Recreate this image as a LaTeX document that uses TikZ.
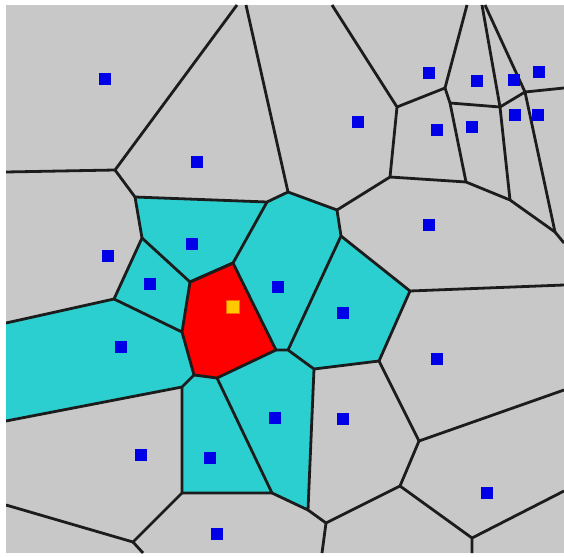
\documentclass[tikz,border=0pt]{standalone}
\usepackage{tikz}
\definecolor{cellgray}{HTML}{C8C8C8}
\definecolor{cellcyan}{HTML}{2BCFCF}
\definecolor{cellred}{HTML}{FF0000}
\definecolor{siteblue}{HTML}{0000E8}
\definecolor{seedyellow}{HTML}{FFC800}
\definecolor{edgeblack}{HTML}{1C1C1C}

\begin{document}
\begin{tikzpicture}[x=1pt, y=-1pt,
    site/.style={fill=siteblue, minimum size=12.5pt, inner sep=0pt},
    edge/.style={draw=edgeblack, line width=2.8pt, line join=round}]
    \useasboundingbox (0,0) rectangle (564,556);
    \fill[white] (0,0) rectangle (564,556);
    \fill[cellgray] (6,5) rectangle (564,553);

    % border points
    \coordinate (t1) at (237,5);  \coordinate (t2) at (246,5);
    \coordinate (t3) at (332,5);  \coordinate (t4) at (467,5);
    \coordinate (t5) at (482,5);  \coordinate (t6) at (485,5);
    \coordinate (l1) at (6,172);  \coordinate (l2) at (6,323);
    \coordinate (l3) at (6,421);  \coordinate (l4) at (6,505);
    \coordinate (r1) at (564,88); \coordinate (r2) at (564,243);
    \coordinate (r3) at (564,285); \coordinate (r4) at (564,390);
    \coordinate (r5) at (564,491);
    \coordinate (b1) at (143,553); \coordinate (b2) at (322,553);
    \coordinate (b3) at (472,553);

    % inner vertices
    \coordinate (A) at (115,170); \coordinate (B) at (135,197);
    \coordinate (C) at (267,202); \coordinate (D) at (288,192);
    \coordinate (E) at (142,238); \coordinate (F) at (114,299);
    \coordinate (G) at (182,387); \coordinate (H) at (272,493);
    \coordinate (I) at (182,493); \coordinate (J) at (288,350);
    \coordinate (K) at (314,369); \coordinate (L) at (308,510);
    \coordinate (M) at (326,523); \coordinate (N) at (337,210);
    \coordinate (O) at (341,236); \coordinate (P) at (410,291);
    \coordinate (Q) at (379,361); \coordinate (S) at (419,441);
    \coordinate (T) at (400,486); \coordinate (U) at (472,538);
    \coordinate (V) at (133,542); \coordinate (W) at (397,107);
    \coordinate (X) at (390,177); \coordinate (Y) at (466,182);
    \coordinate (Z1) at (445,88); \coordinate (Z2) at (450,103);
    \coordinate (Z3) at (500,107); \coordinate (Z4) at (525,92);
    \coordinate (Z5) at (510,200); \coordinate (Z6) at (555,232);

    % red cell
    \coordinate (R0) at (190,282); \coordinate (R1) at (233,263);
    \coordinate (R2) at (276,350); \coordinate (R3) at (217,378);
    \coordinate (R4) at (194,375); \coordinate (R5) at (182,332);

    % neighbour cells
    \fill[cellcyan] (B) -- (C) -- (R1) -- (R0) -- (E) -- cycle;
    \fill[cellcyan] (E) -- (R0) -- (R5) -- (F) -- cycle;
    \fill[cellcyan] (l2) -- (F) -- (R5) -- (R4) -- (G) -- (l3) -- cycle;
    \fill[cellcyan] (G) -- (R4) -- (R3) -- (H) -- (I) -- cycle;
    \fill[cellcyan] (R3) -- (R2) -- (J) -- (K) -- (L) -- (H) -- cycle;
    \fill[cellcyan] (R1) -- (C) -- (D) -- (N) -- (O) -- (J) -- (R2) -- cycle;
    \fill[cellcyan] (O) -- (P) -- (Q) -- (K) -- (J) -- cycle;
    \fill[cellred] (R0) -- (R1) -- (R2) -- (R3) -- (R4) -- (R5) -- cycle;

    \begin{scope}
      \clip (6,5) rectangle (564,553);
      \draw[edge] (l1) -- (A) -- (t1);
      \draw[edge] (A) -- (B) -- (C) -- (D) -- (t2);
      \draw[edge] (B) -- (E) -- (F) -- (l2);
      \draw[edge] (C) -- (R1) -- (R0) -- (E);
      \draw[edge] (R0) -- (R1) -- (R2) -- (R3) -- (R4) -- (R5) -- cycle;
      \draw[edge] (F) -- (R5);
      \draw[edge] (R4) -- (G) -- (l3);
      \draw[edge] (G) -- (I) -- (H) -- (R3);
      \draw[edge] (H) -- (L) -- (K) -- (J) -- (R2);
      \draw[edge] (L) -- (M) -- (b2);
      \draw[edge] (I) -- (V) -- (l4);
      \draw[edge] (V) -- (b1);
      \draw[edge] (J) -- (O) -- (N) -- (D);
      \draw[edge] (O) -- (P) -- (Q) -- (K);
      \draw[edge] (P) -- (r3);
      \draw[edge] (Q) -- (S) -- (r4);
      \draw[edge] (S) -- (T) -- (M);
      \draw[edge] (T) -- (U) -- (b3);
      \draw[edge] (U) -- (r5);
      \draw[edge] (N) -- (X) -- (W) -- (t3);
      \draw[edge] (X) -- (Y) -- (Z5) -- (Z6) -- (r2);
      \draw[edge] (W) -- (Z1) -- (t4);
      \draw[edge] (Z1) -- (Z2) -- (Y);
      \draw[edge] (Z2) -- (Z3) -- (Z4) -- (r1);
      \draw[edge] (t5) -- (Z3) -- (Z5);
      \draw[edge] (t6) -- (Z4) -- (Z6);
    \end{scope}

    % sites
    \node[site] (s1) at (105,79) {};
    \node[site] (s2) at (197,162) {};
    \node[site] (s3) at (108,256) {};
    \node[site] (s4) at (192,244) {};
    \node[site] (s5) at (150,284) {};
    \node[site] (s6) at (121,347) {};
    \node[site] (s7) at (278,287) {};
    \node[site] (s8) at (343,313) {};
    \node[site] (s9) at (141,455) {};
    \node[site] (s10) at (210,458) {};
    \node[site] (s11) at (275,418) {};
    \node[site] (s12) at (343,419) {};
    \node[site] (s13) at (217,534) {};
    \node[site] (s14) at (437,359) {};
    \node[site] (s15) at (487,493) {};
    \node[site] (s16) at (429,225) {};
    \node[site] (s17) at (358,122) {};
    \node[site] (s18) at (429,73) {};
    \node[site] (s19) at (437,130) {};
    \node[site] (s20) at (477,81) {};
    \node[site] (s21) at (472,127) {};
    \node[site] (s22) at (514,80) {};
    \node[site] (s23) at (539,72) {};
    \node[site] (s24) at (515,115) {};
    \node[site] (s25) at (538,115) {};
    \node[fill=seedyellow, draw=orange!80!red, minimum size=13pt, inner sep=0pt] (seed) at (233,307) {};
\end{tikzpicture}
\end{document}
